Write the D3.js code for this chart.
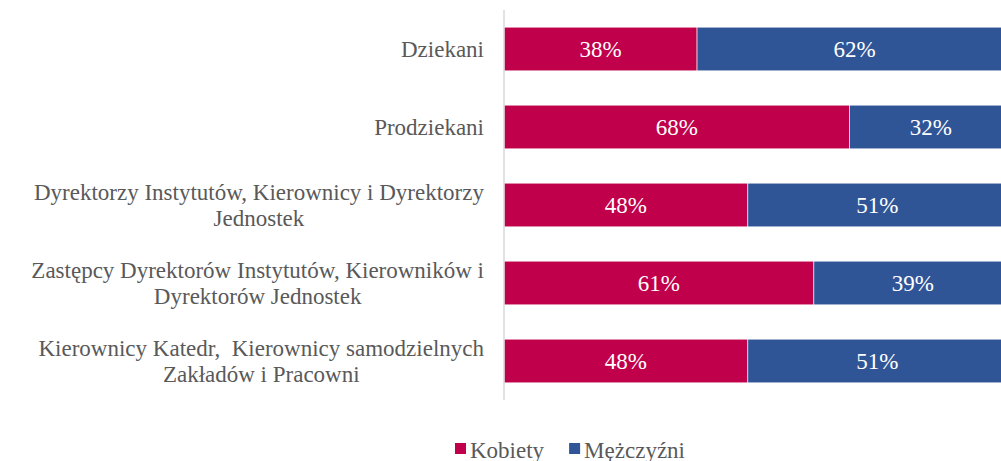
<html>
<head>
<style>
	body { margin: 0; background: white; }
</style>
</head>
<body>
<svg class="chart" width="1001" height="461"></svg>
<script src="https://d3js.org/d3.v7.min.js"></script>
<script>
// categories (each an array of lines, as wrapped in the original)
var categories = [
	["Dziekani"],
	["Prodziekani"],
	["Dyrektorzy Instytutów, Kierownicy i Dyrektorzy", "Jednostek"],
	["Zastępcy Dyrektorów Instytutów, Kierowników i", "Dyrektorów Jednostek"],
	["Kierownicy Katedr,  Kierownicy samodzielnych", "Zakładów i Pracowni"]
];
var kobiety = [38, 68, 48, 61, 48];
var mezczyzni = [62, 32, 51, 39, 51];
var seriesNames = ["Kobiety", "Mężczyźni"];
var colors = ["#C0004A", "#2F5597"];

// same inline style form as a plain svg text: single quoted family
var textStyle = "font-family:'Liberation Serif';font-size:23px;white-space:pre";

var svg = d3.select("svg");

var plotLeft = 504, plotTop = 10, plotBottom = 400;

var x = d3.scaleLinear()
	.domain([0, 100])
	.range([plotLeft, plotLeft + 508]);

var y = d3.scaleBand()
	.domain(d3.range(categories.length))
	.range([plotTop, plotBottom])
	.paddingInner(0.44)
	.paddingOuter(0.22);

var rows = categories.map(function(c, i) {
	return {i: i, k: kobiety[i], m: mezczyzni[i]};
});

//bars
var g = svg.append("g");
rows.forEach(function(d) {
	var segs = [
		{x0: 0, v: d.k, c: colors[0]},
		{x0: d.k, v: d.m, c: colors[1]}
	];
	segs.forEach(function(s) {
		g.append("rect")
			.attr("x", x(s.x0))
			.attr("y", y(d.i))
			.attr("width", x(s.x0 + s.v) - x(s.x0))
			.attr("height", y.bandwidth())
			.attr("fill", s.c)
			.attr("stroke", "white")
			.attr("stroke-width", 0.6);
		g.append("text")
			.attr("x", (x(s.x0) + x(s.x0 + s.v)) / 2)
			.attr("y", y(d.i) + y.bandwidth() / 2 + 8)
			.attr("text-anchor", "middle")
			.attr("fill", "white")
			.attr("style", textStyle)
			.text(s.v + "%");
	});
});

//axis line
svg.append("line")
	.attr("x1", plotLeft).attr("x2", plotLeft)
	.attr("y1", plotTop).attr("y2", plotBottom)
	.attr("stroke", "#d9d9d9")
	.attr("stroke-width", 1.5);

//category labels: block right aligned, lines centered inside
var labelRight = 484, lineH = 26;
categories.forEach(function(lines, i) {
	var lg = svg.append("g");
	var cy = y(i) + y.bandwidth() / 2;
	var texts = lines.map(function(t, j) {
		return lg.append("text")
			.attr("y", cy + (j - (lines.length - 1) / 2) * lineH + 8)
			.attr("text-anchor", "middle")
			.attr("fill", "#595959")
			.attr("style", textStyle)
			.text(t);
	});
	var maxW = d3.max(texts, function(t) { return t.node().getComputedTextLength(); });
	texts.forEach(function(t) { t.attr("x", labelRight - maxW / 2); });
});

//legend
var legend = svg.append("g").attr("transform", "translate(455,443)");
var lx = 0;
seriesNames.forEach(function(n, i) {
	legend.append("rect")
		.attr("x", lx).attr("y", 0)
		.attr("width", 11).attr("height", 11)
		.attr("fill", colors[i]);
	var t = legend.append("text")
		.attr("x", lx + 15)
		.attr("y", 15)
		.attr("fill", "#595959")
		.attr("style", textStyle)
		.text(n);
	lx += 15 + t.node().getComputedTextLength() + 25;
});
</script>
</body>
</html>
